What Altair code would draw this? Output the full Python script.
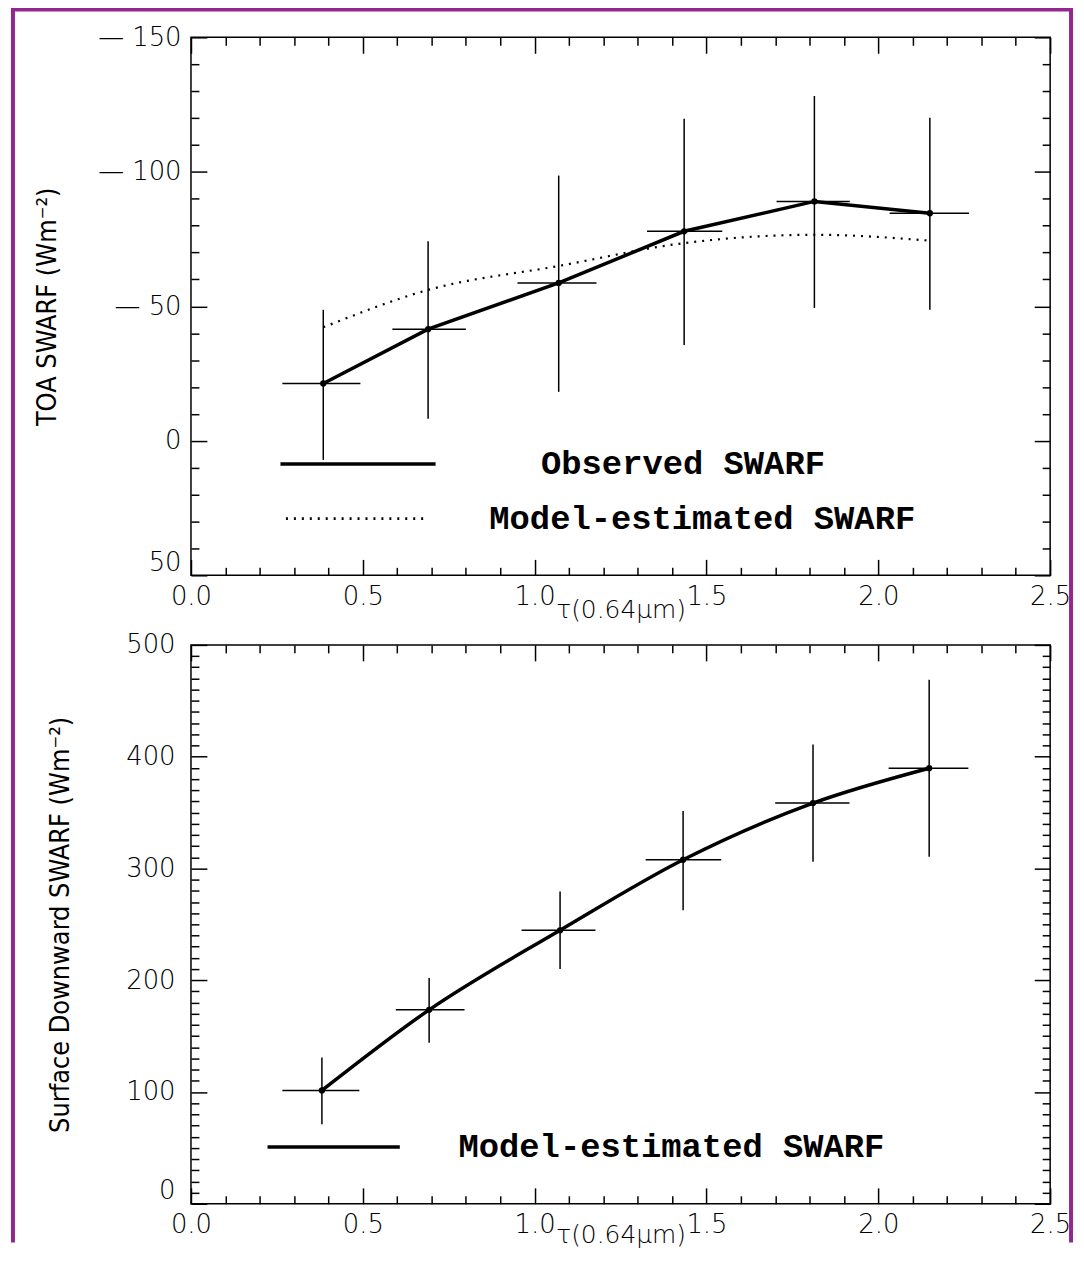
import altair as alt
import pandas as pd

# ---------------- data: top panel (TOA SWARF) ----------------
tau_top = [0.385, 0.690, 1.070, 1.435, 1.814, 2.150]
tau_top_lo = [0.266, 0.586, 0.950, 1.327, 1.704, 2.033]
tau_top_hi = [0.493, 0.800, 1.180, 1.546, 1.917, 2.264]
toa_obs = [-21.3, -41.5, -58.7, -77.9, -89.0, -84.6]
toa_obs_err_top = [-48.7, -74.2, -98.6, -119.7, -128.2, -120.1]
toa_obs_err_bot = [7.1, -8.2, -18.2, -35.6, -49.4, -48.7]
toa_model = [-42.2, -56.1, -65.0, -73.5, -76.6, -74.4]

# ---------------- data: bottom panel (surface SWARF) ----------------
tau_bot = [0.381, 0.693, 1.074, 1.432, 1.810, 2.148]
tau_bot_lo = [0.266, 0.596, 0.962, 1.323, 1.700, 2.030]
tau_bot_hi = [0.490, 0.796, 1.177, 1.543, 1.916, 2.262]
sfc_model = [101.4, 173.5, 244.7, 307.8, 358.5, 389.7]
sfc_err_top = [130.8, 202.0, 279.4, 351.4, 411.0, 468.9]
sfc_err_bot = [71.2, 144.0, 210.0, 262.5, 306.0, 310.5]

series_obs = "Observed SWARF"
series_mod = "Model-estimated SWARF"

# ---------------- tick positions ----------------
x_major = [0.0, 0.5, 1.0, 1.5, 2.0, 2.5]
x_minor = [round(i / 10, 1) for i in range(26) if i % 5]
top_y_major = [-150, -100, -50, 0, 50]
top_y_minor = [v for v in range(-150, 51, 10) if v % 50]
bot_y_major = [0, 100, 200, 300, 400, 500]
bot_y_minor = [v for v in range(0, 501, 10) if v % 100]

PURPLE = "#93278f"
LABEL_FONT = "DejaVu Sans"
TITLE_FONT = "Liberation Sans Narrow, DejaVu Sans Condensed, Liberation Sans"
LEG_FONT = "Courier New, Liberation Mono, monospace"
INK = "black"


def ax(orient, values, size, **kw):
    base = dict(orient=orient, values=values, tickSize={"expr": str(-size)},
                tickColor="black", tickWidth=1.5, ticks=True, domain=False,
                grid=False, labels=False, title=None, minExtent=0)
    if not kw.get("labels"):
        base["maxExtent"] = 0
    base.update(kw)
    return alt.Axis(**base)


def lab_x(title_pad):
    return dict(labels=True, format=".1f", labelFont=LABEL_FONT, labelFontSize=26,
                labelColor=INK, labelPadding=24, labelFontWeight=300, labelFlush=False,
                title="τ(0.64μm)", titleFont=LABEL_FONT, titleFontSize=25,
                titleFontWeight=300, titleColor=INK, titlePadding=title_pad)


def leg(x, y, length, offset, stroke_w):
    return alt.Legend(title=None, orient="none", legendX=x, legendY=y, padding=0,
                      symbolType="stroke", symbolSize=length * length,
                      symbolStrokeColor="black", symbolStrokeWidth=stroke_w,
                      clipHeight=30, labelFont=LEG_FONT, labelFontSize=34,
                      labelFontWeight="bold", labelColor="black", labelAlign="left",
                      labelOffset=offset, labelLimit=2000)


xs = alt.Scale(domain=[0, 2.5], nice=False, zero=False)
ys_top = alt.Scale(domain=[-150, 50], reverse=True, nice=False, zero=False)
ys_bot = alt.Scale(domain=[0, 500], nice=False, zero=False)

frame_df = pd.DataFrame({"k": [0]})

# ---------------- top panel ----------------
df_top = pd.DataFrame({"tau": tau_top, "tau_lo": tau_top_lo, "tau_hi": tau_top_hi,
                       "obs": toa_obs, "up": toa_obs_err_top, "dn": toa_obs_err_bot})
df_top_obs = pd.DataFrame({"tau": tau_top, "val": toa_obs, "obs_series": series_obs})
df_top_mod = pd.DataFrame({"tau": tau_top, "val": toa_model, "mod_series": series_mod})

lab_y_top = dict(labels=True, labelExpr="datum.value < 0 ? '— ' + (-datum.value) : datum.label",
                 labelFont=LABEL_FONT, labelFontSize=26, labelColor=INK, labelPadding=26,
                 labelFontWeight=300, labelFlush=False,
                 labelBaseline={"condition": {"test": "datum.value == 50", "value": "bottom"},
                                "value": "middle"},
                 title="TOA SWARF (Wm⁻²)", titleFont=TITLE_FONT, titleFontSize=27,
                 titleFontWeight="normal", titleColor=INK, titlePadding=36)

frame_style = dict(color=PURPLE, strokeWidth=4)
frame_left = alt.Chart(frame_df).mark_rule(**frame_style).encode(
    x=alt.value(-179), y=alt.value(-28), y2=alt.value(1212))
frame_top = alt.Chart(frame_df).mark_rule(**frame_style).encode(
    x=alt.value(-181), x2=alt.value(887), y=alt.value(-28))
frame_right = alt.Chart(frame_df).mark_rule(**frame_style).encode(
    x=alt.value(885), y=alt.value(-28), y2=alt.value(1212))

vbar_t = alt.Chart(df_top).mark_rule(color=INK, strokeWidth=1.5).encode(
    x=alt.X("tau:Q", scale=xs, axis=ax("bottom", x_major, 16, **lab_x(-12))),
    y=alt.Y("up:Q", scale=ys_top, axis=ax("left", top_y_major, 16, **lab_y_top)),
    y2="dn:Q")
hbar_t = alt.Chart(df_top).mark_rule(color=INK, strokeWidth=1.5).encode(
    x=alt.X("tau_lo:Q", scale=xs, axis=ax("bottom", x_minor, 8)),
    x2="tau_hi:Q",
    y=alt.Y("obs:Q", scale=ys_top, axis=ax("left", top_y_minor, 8)))
obs_line = alt.Chart(df_top_obs).mark_line(strokeWidth=3.5).encode(
    x=alt.X("tau:Q", scale=xs, axis=ax("top", x_major, 16)),
    y=alt.Y("val:Q", scale=ys_top, axis=ax("right", top_y_major, 16)),
    color=alt.Color("obs_series:N", scale=alt.Scale(domain=[series_obs], range=["black"]),
                    legend=leg(88, 414, 156, 104, 3.5)))
mod_line = alt.Chart(df_top_mod).mark_line(color="black", strokeWidth=2.2,
                                           interpolate="monotone").encode(
    x=alt.X("tau:Q", scale=xs, axis=ax("top", x_minor, 8)),
    y=alt.Y("val:Q", scale=ys_top, axis=ax("right", top_y_minor, 8)),
    strokeDash=alt.StrokeDash("mod_series:N",
                              scale=alt.Scale(domain=[series_mod], range=[[2, 6]]),
                              legend=leg(94, 469, 144, 59, 2.6)))
pts_t = alt.Chart(df_top).mark_circle(color="black", size=40, opacity=1).encode(
    x=alt.X("tau:Q", scale=xs, axis=None),
    y=alt.Y("obs:Q", scale=ys_top, axis=None))

top = alt.layer(frame_left, frame_top, frame_right, vbar_t, hbar_t, obs_line,
                mod_line, pts_t).resolve_axis(
    x="independent", y="independent").properties(width=864, height=541)

# ---------------- bottom panel ----------------
df_bot = pd.DataFrame({"tau": tau_bot, "tau_lo": tau_bot_lo, "tau_hi": tau_bot_hi,
                       "val": sfc_model, "up": sfc_err_top, "dn": sfc_err_bot})
df_bot_line = pd.DataFrame({"tau": tau_bot, "val": sfc_model, "bot_series": series_mod})

lab_y_bot = dict(labels=True, labelFont=LABEL_FONT, labelFontSize=26, labelColor=INK,
                 labelPadding=32, labelFontWeight=300, labelFlush=False,
                 labelBaseline={"condition": {"test": "datum.value == 0", "value": "bottom"},
                                "value": "middle"},
                 title="Surface Downward SWARF (Wm⁻²)", titleFont=TITLE_FONT,
                 titleFontSize=27, titleFontWeight="normal", titleColor=INK,
                 titlePadding=52)

vbar_b = alt.Chart(df_bot).mark_rule(color=INK, strokeWidth=1.5).encode(
    x=alt.X("tau:Q", scale=xs, axis=ax("bottom", x_major, 16, **lab_x(-15))),
    y=alt.Y("up:Q", scale=ys_bot, axis=ax("left", bot_y_major, 16, **lab_y_bot)),
    y2="dn:Q")
hbar_b = alt.Chart(df_bot).mark_rule(color=INK, strokeWidth=1.5).encode(
    x=alt.X("tau_lo:Q", scale=xs, axis=ax("bottom", x_minor, 8)),
    x2="tau_hi:Q",
    y=alt.Y("val:Q", scale=ys_bot, axis=ax("left", bot_y_minor, 8)))
line_b = alt.Chart(df_bot_line).mark_line(strokeWidth=3.5,
                                          interpolate="monotone").encode(
    x=alt.X("tau:Q", scale=xs, axis=ax("top", x_major, 16)),
    y=alt.Y("val:Q", scale=ys_bot, axis=ax("right", bot_y_major, 16)),
    color=alt.Color("bot_series:N", scale=alt.Scale(domain=[series_mod], range=["black"]),
                    legend=leg(75, 490, 133, 57, 3.5)))
pts_b = alt.Chart(df_bot).mark_circle(color="black", size=40, opacity=1).encode(
    x=alt.X("tau:Q", scale=xs, axis=ax("top", x_minor, 8)),
    y=alt.Y("val:Q", scale=ys_bot, axis=ax("right", bot_y_minor, 8)))

bottom = alt.layer(vbar_b, hbar_b, line_b, pts_b).resolve_axis(
    x="independent", y="independent").properties(width=864, height=562)

chart = alt.vconcat(top, bottom, spacing=70, bounds="flush").resolve_scale(
    color="independent", strokeDash="independent").resolve_legend(
    color="independent", strokeDash="independent").properties(
    padding={"top": -5, "left": 0, "right": 0, "bottom": 0}, background="white"
).configure_view(stroke="black", strokeWidth=1.5)

chart.save("out.html", embed_options={"renderer": "svg", "actions": False})
